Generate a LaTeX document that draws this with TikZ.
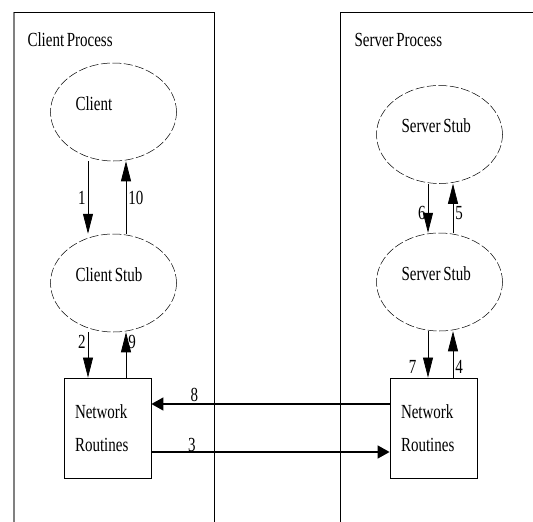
\documentclass[tikz,border=0pt]{standalone}
\usepackage{fontspec}
\newfontfamily\diagfont[FakeStretch=0.75,WordSpace=0.7]{Liberation Serif}
\usepackage{tikz}
\usetikzlibrary{shapes,arrows.meta,positioning,calc}

\begin{document}
\begin{tikzpicture}[x=1pt, y=-1pt,
    font=\diagfont\fontsize{20}{33}\selectfont,
    stub/.style={ellipse, draw, line width=0.5pt, dash pattern=on 9pt off 2.5pt,
        minimum width=126pt, minimum height=98pt, inner sep=0pt,
        text width=76pt, align=flush left, text height=14pt, text depth=18pt, xshift=1.5pt},
    netbox/.style={rectangle, draw, line width=0.8pt, minimum width=87pt,
        minimum height=100pt, inner xsep=11pt, text width=65pt, align=flush left},
    vert/.style={-{Triangle[length=20pt,width=10pt]}, line width=0.7pt},
    horiz/.style={-{Triangle[length=12pt,width=13pt]}, line width=1.4pt},
    num/.style={inner sep=2pt}]
    \useasboundingbox (0,0) rectangle (533,522);

    % process frames
    \draw[gray, line width=1.5pt] (14,522) -- (14,12);
    \draw[line width=0.8pt] (14,12) -- (214,12) -- (214,522);
    \draw[line width=0.8pt] (533,12) -| (340,522);
    \node[anchor=west] (cproc) at (24,40) {Client Process};
    \node[anchor=west] (sproc) at (351,40) {Server Process};

    % client side
    \node[stub] (client) at (112,112) {Client};
    \node[stub] (cstub) at (112,283) {Client Stub};
    \node[netbox] (cnet) at (107.5,428) {Network\\Routines};

    % server side
    \node[stub] (sstub) at (438,134.5) {Server Stub};
    \node[stub] (sstub2) at (438,282) {Server Stub};
    \node[netbox] (snet) at (433.5,428) {Network\\Routines};

    % calls inside the client
    \draw[vert] ([xshift=-25.5pt]client.south) -- node[num,left]{1} ([xshift=-25.5pt]cstub.north);
    \draw[vert] ([xshift=12.5pt]cstub.north) -- node[num,right]{10} ([xshift=12.5pt]client.south);
    \draw[vert] ([xshift=-25.5pt]cstub.south) -- node[num,left,pos=0.22]{2} ([xshift=-25.5pt]cstub.south |- cnet.north);
    \draw[vert] ([xshift=12.5pt]cstub.south |- cnet.north) -- node[num,right,pos=0.78]{9} ([xshift=12.5pt]cstub.south);

    % calls inside the server
    \draw[vert] ([xshift=-11.5pt]sstub.south) -- node[num,left,pos=0.6]{6} ([xshift=-11.5pt]sstub2.north);
    \draw[vert] ([xshift=13.5pt]sstub2.north) -- node[num,right,pos=0.4]{5} ([xshift=13.5pt]sstub.south);
    \draw[vert] ([xshift=-11.5pt]sstub2.south) -- node[left=8pt,pos=0.77]{7} ([xshift=-11.5pt]sstub2.south |- snet.north);
    \draw[vert] ([xshift=13.5pt]sstub2.south |- snet.north) -- node[num,right,pos=0.23]{4} ([xshift=13.5pt]sstub2.south);

    % network messages
    \draw[horiz] ([yshift=24pt]snet.west) -- node[num,above,pos=0.82]{8} ([yshift=24pt]cnet.east);
    \draw[horiz] ([yshift=-24pt]cnet.east) -- node[above,inner sep=0pt,pos=0.17]{3} ([yshift=-24pt]snet.west);
\end{tikzpicture}
\end{document}
